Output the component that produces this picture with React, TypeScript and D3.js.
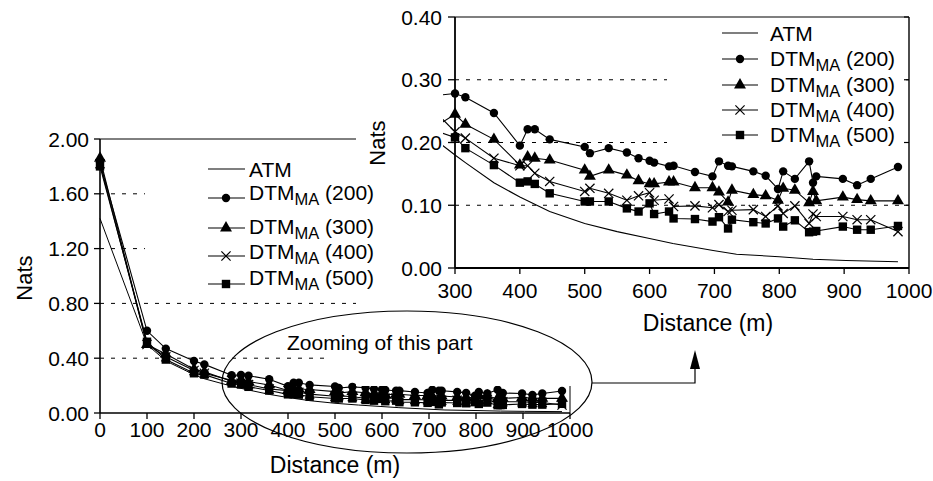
import React from 'react';
import * as d3 from 'd3';

const distances = [0, 100, 140, 200, 222, 280, 300, 316, 360, 400, 412, 423, 446, 500, 508, 537, 565, 583, 600, 607, 630, 637, 670, 697, 707, 721, 727, 760, 779, 798, 806, 824, 846, 852, 857, 898, 920, 941, 983];
const dtm200 = [1.83, 0.60, 0.47, 0.38, 0.355, 0.276, 0.278, 0.272, 0.247, 0.195, 0.221, 0.221, 0.205, 0.193, 0.183, 0.191, 0.184, 0.175, 0.171, 0.168, 0.162, 0.163, 0.153, 0.146, 0.170, 0.163, 0.162, 0.154, 0.147, 0.126, 0.154, 0.142, 0.170, 0.136, 0.146, 0.142, 0.132, 0.142, 0.161];
const dtm300 = [1.86, 0.50, 0.43, 0.32, 0.30, 0.232, 0.245, 0.229, 0.205, 0.164, 0.177, 0.175, 0.172, 0.156, 0.146, 0.156, 0.148, 0.139, 0.134, 0.134, 0.137, 0.137, 0.128, 0.128, 0.121, 0.105, 0.124, 0.117, 0.115, 0.108, 0.127, 0.124, 0.104, 0.122, 0.107, 0.113, 0.109, 0.107, 0.107];
const dtm400 = [1.82, 0.50, 0.41, 0.31, 0.29, 0.238, 0.217, 0.207, 0.175, 0.163, 0.163, 0.151, 0.138, 0.122, 0.127, 0.119, 0.108, 0.115, 0.120, 0.108, 0.110, 0.098, 0.099, 0.096, 0.101, 0.090, 0.092, 0.093, 0.082, 0.099, 0.087, 0.099, 0.071, 0.086, 0.082, 0.082, 0.077, 0.077, 0.058];
const dtm500 = [1.80, 0.52, 0.39, 0.29, 0.28, 0.215, 0.208, 0.191, 0.164, 0.136, 0.138, 0.134, 0.119, 0.106, 0.106, 0.106, 0.095, 0.090, 0.103, 0.086, 0.090, 0.079, 0.078, 0.074, 0.081, 0.063, 0.077, 0.073, 0.071, 0.079, 0.066, 0.076, 0.057, 0.058, 0.059, 0.066, 0.061, 0.061, 0.067];
const atmX = [0, 100, 140, 200, 222, 280, 300, 316, 360, 400, 446, 500, 550, 600, 636, 698, 734, 800, 852, 903, 983];
const atmY = [1.42, 0.50, 0.38, 0.28, 0.25, 0.196, 0.180, 0.168, 0.136, 0.113, 0.090, 0.071, 0.058, 0.047, 0.039, 0.028, 0.022, 0.018, 0.014, 0.012, 0.010];

const seriesNames = ['(200)', '(300)', '(400)', '(500)'];
const markerKinds = ['circle', 'triangle', 'cross', 'square'];
const seriesValues = [dtm200, dtm300, dtm400, dtm500];

const mainYTicks = [0, 0.4, 0.8, 1.2, 1.6, 2.0];
const mainXTicks = [0, 100, 200, 300, 400, 500, 600, 700, 800, 900, 1000];
const insetYTicks = [0, 0.1, 0.2, 0.3, 0.4];
const insetXTicks = [300, 400, 500, 600, 700, 800, 900, 1000];

const FONT = "'Liberation Sans', Arial, Helvetica, sans-serif";

function Marker({ kind, x, y, s = 1 }: { kind: string; x: number; y: number; s?: number }) {
  if (kind === 'circle') return <circle cx={x} cy={y} r={4.2 * s} fill="#000" />;
  if (kind === 'square') return <rect x={x - 4.2 * s} y={y - 4.2 * s} width={8.4 * s} height={8.4 * s} fill="#000" />;
  if (kind === 'triangle') {
    const p = d3.symbol().type(d3.symbolTriangle).size(62 * s * s)();
    return <path d={p || ''} transform={`translate(${x},${y})`} fill="#000" />;
  }
  const r = 4.6 * s;
  return (
    <g stroke="#000" strokeWidth={1.2}>
      <line x1={x - r} y1={y - r} x2={x + r} y2={y + r} />
      <line x1={x - r} y1={y + r} x2={x + r} y2={y - r} />
    </g>
  );
}

function LegendLabel({ x, y, name, size }: { x: number; y: number; name: string; size: number }) {
  return (
    <text x={x} y={y} fontFamily={FONT} fontSize={size} fill="#000">
      DTM<tspan fontSize={16.5} dy={5}>MA</tspan>
      <tspan dy={-5}>{' ' + name}</tspan>
    </text>
  );
}

export default function App() {
  // main chart
  const mx = d3.scaleLinear().domain([0, 1000]).range([100, 570]);
  const my = d3.scaleLinear().domain([0, 2]).range([413, 139]);
  // inset chart
  const ix = d3.scaleLinear().domain([300, 1000]).range([455, 909]);
  const iy = d3.scaleLinear().domain([0, 0.4]).range([268, 17]);

  const mainLine = d3.line<number>().x((_, i) => mx(distances[i])).y((d) => my(d));
  const mainAtm = d3.line<number>().x((_, i) => mx(atmX[i])).y((d) => my(d));
  const insetLine = d3.line<number>().x((_, i) => ix(distances[i])).y((d) => iy(d));
  const insetAtm = d3.line<number>().x((_, i) => ix(atmX[i])).y((d) => iy(d));

  const fmt = d3.format('.2f');
  const dash = '4,7';

  const mainLegendRows = [
    { line: 198, text: 200 },
    { line: 228, text: 234 },
    { line: 256, text: 259 },
    { line: 284, text: 285 },
  ];
  const insetLegendRows = [59, 85, 110, 135];

  return (
    <svg width={933} height={481} style={{ position: 'absolute', left: 0, top: 0, background: '#fff' }}>
      <rect x={0} y={0} width={933} height={481} fill="#fff" />
      {/* ===== main chart ===== */}
      <g>
        {mainYTicks.filter((t) => t > 0 && t < 2).map((t) => (
          <line key={t} x1={mx(0)} x2={mx(1000)} y1={my(t)} y2={my(t)} stroke="#000" strokeWidth={1} strokeDasharray={dash} />
        ))}
        <line x1={mx(0)} x2={mx(1000)} y1={my(2)} y2={my(2)} stroke="#000" strokeWidth={1} />
        <line x1={mx(1000)} x2={mx(1000)} y1={my(2)} y2={my(0)} stroke="#000" strokeWidth={1} />
        <path d={mainAtm(atmY) || ''} fill="none" stroke="#000" strokeWidth={1} />
        {seriesValues.map((vals, si) => (
          <g key={si}>
            <path d={mainLine(vals) || ''} fill="none" stroke="#000" strokeWidth={1.1} />
            {vals.map((v, i) => (
              <Marker key={i} kind={markerKinds[si]} x={mx(distances[i])} y={my(v)} />
            ))}
          </g>
        ))}
        <line x1={mx(0)} x2={mx(0)} y1={my(2)} y2={my(0)} stroke="#000" strokeWidth={1.6} />
        <line x1={mx(0)} x2={mx(1000)} y1={my(0)} y2={my(0)} stroke="#000" strokeWidth={1.6} />
        {mainYTicks.map((t) => (
          <g key={t}>
            <line x1={mx(0) - 6} x2={mx(0)} y1={my(t)} y2={my(t)} stroke="#000" strokeWidth={1.3} />
            <text x={89} y={my(t) + 7.5} textAnchor="end" fontFamily={FONT} fontSize={21}>{fmt(t)}</text>
          </g>
        ))}
        {mainXTicks.map((t) => (
          <g key={t}>
            <line x1={mx(t)} x2={mx(t)} y1={my(0)} y2={my(0) + 6} stroke="#000" strokeWidth={1.3} />
            <text x={mx(t)} y={437} textAnchor="middle" fontFamily={FONT} fontSize={21}>{t}</text>
          </g>
        ))}
        <text x={335} y={473} textAnchor="middle" fontFamily={FONT} fontSize={23}>Distance (m)</text>
        <text transform="translate(32,278) rotate(-90)" textAnchor="middle" fontFamily={FONT} fontSize={22}>Nats</text>
        <rect x={325} y={352} width={40} height={12} fill="#fff" />
      </g>

      {/* inset background */}
      <rect x={356} y={0} width={577} height={386} fill="#fff" />

      {/* main legend (drawn over the inset background) */}
      <g>
        <rect x={145} y={150} width={233} height={146} fill="#fff" />
        <line x1={208} x2={245} y1={169} y2={169} stroke="#000" strokeWidth={1.1} />
        <text x={249} y={177} fontFamily={FONT} fontSize={21}>ATM</text>
        {mainLegendRows.map((r, i) => (
          <g key={i}>
            <line x1={208} x2={245} y1={r.line} y2={r.line} stroke="#000" strokeWidth={1.1} />
            <Marker kind={markerKinds[i]} x={226} y={r.line} />
            <LegendLabel x={249} y={r.text} name={seriesNames[i]} size={21} />
          </g>
        ))}
      </g>

      {/* ===== inset chart ===== */}
      <defs>
        <clipPath id="insetClip">
          <rect x={443} y={iy(0.4)} width={ix(1000) - 443} height={iy(0) - iy(0.4)} />
        </clipPath>
      </defs>
      <g>
        {insetYTicks.filter((t) => t > 0 && t < 0.4).map((t) => (
          <line key={t} x1={ix(300)} x2={ix(1000)} y1={iy(t)} y2={iy(t)} stroke="#000" strokeWidth={1} strokeDasharray={dash} />
        ))}
        <g clipPath="url(#insetClip)">
          <path d={insetAtm(atmY) || ''} fill="none" stroke="#000" strokeWidth={1.1} />
          {seriesValues.map((vals, si) => (
            <path key={si} d={insetLine(vals) || ''} fill="none" stroke="#000" strokeWidth={1.1} />
          ))}
        </g>
        {seriesValues.map((vals, si) => (
          <g key={si}>
            {vals.map((v, i) =>
              distances[i] >= 300 ? (
                <Marker key={i} kind={markerKinds[si]} x={ix(distances[i])} y={iy(v)} />
              ) : null
            )}
          </g>
        ))}
        <line x1={ix(300)} x2={ix(1000)} y1={iy(0.4)} y2={iy(0.4)} stroke="#000" strokeWidth={1.2} />
        <line x1={ix(1000)} x2={ix(1000)} y1={iy(0.4)} y2={iy(0)} stroke="#000" strokeWidth={1.4} />
        {insetYTicks.map((t) => (
          <line key={'r' + t} x1={ix(1000) - 5} x2={ix(1000)} y1={iy(t)} y2={iy(t)} stroke="#000" strokeWidth={1.2} />
        ))}
        <line x1={ix(300)} x2={ix(300)} y1={iy(0.4)} y2={iy(0)} stroke="#000" strokeWidth={1.8} />
        <line x1={ix(300)} x2={ix(1000)} y1={iy(0)} y2={iy(0)} stroke="#000" strokeWidth={2} />
        {insetYTicks.map((t) => (
          <g key={t}>
            <line x1={ix(300) - 7} x2={ix(300)} y1={iy(t)} y2={iy(t)} stroke="#000" strokeWidth={1.3} />
            <text x={442} y={iy(t) + 7.5} textAnchor="end" fontFamily={FONT} fontSize={21}>{fmt(t)}</text>
          </g>
        ))}
        {insetXTicks.map((t) => (
          <g key={t}>
            <line x1={ix(t)} x2={ix(t)} y1={iy(0)} y2={iy(0) + 6} stroke="#000" strokeWidth={1.3} />
            <text x={ix(t)} y={298} textAnchor="middle" fontFamily={FONT} fontSize={21}>{t}</text>
          </g>
        ))}
        <text x={708} y={331} textAnchor="middle" fontFamily={FONT} fontSize={23}>Distance (m)</text>
        <text transform="translate(385,143) rotate(-90)" textAnchor="middle" fontFamily={FONT} fontSize={22}>Nats</text>

        {/* inset legend */}
        <rect x={667} y={20} width={236} height={128} fill="#fff" />
        <line x1={722} x2={758} y1={33} y2={33} stroke="#000" strokeWidth={1.1} />
        <text x={770} y={41} fontFamily={FONT} fontSize={21}>ATM</text>
        {insetLegendRows.map((ly, i) => (
          <g key={i}>
            <line x1={722} x2={758} y1={ly} y2={ly} stroke="#000" strokeWidth={1.1} />
            <Marker kind={markerKinds[i]} x={740} y={ly} />
            <LegendLabel x={770} y={ly + 7} name={seriesNames[i]} size={21} />
          </g>
        ))}
      </g>

      {/* ===== annotation ===== */}
      <ellipse cx={407} cy={382} rx={185} ry={71} fill="none" stroke="#000" strokeWidth={1.2} />
      <text x={287} y={350} fontFamily={FONT} fontSize={21}>Zooming of this part</text>
      <polyline points="592,383 695,383 695,368" fill="none" stroke="#000" strokeWidth={1.2} />
      <path d="M695,350 L700,369 L690,369 Z" fill="#000" />
    </svg>
  );
}
